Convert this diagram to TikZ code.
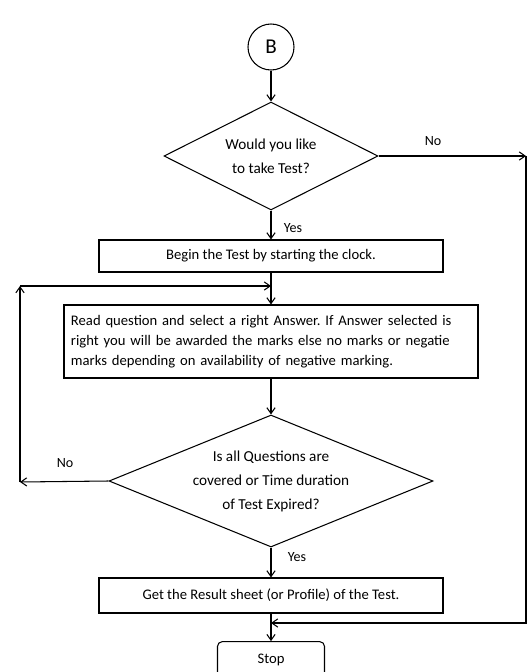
\documentclass[tikz,border=0pt]{standalone}
\usepackage{fontspec}
\setmainfont{Carlito}
\usetikzlibrary{shapes.geometric,arrows.meta}
\frenchspacing
\tikzset{
  box/.style={draw, line width=0.9pt, inner sep=0pt, align=center, font=\fontsize{12.5}{17}\selectfont},
  decision/.style={draw, diamond, line width=0.9pt, inner sep=-5pt, align=center, font=\fontsize{13}{20.5}\selectfont},
  flow/.style={-{Straight Barb[length=5pt,width=7pt]}, line width=0.9pt},
  tag/.style={font=\fontsize{12}{12}\selectfont}
}
\begin{document}
\begin{tikzpicture}[x=0.03cm,y=-0.03cm]
                    \clip (0,0) rectangle (532,672);

                    \node[draw, circle, minimum size=1.38cm, line width=0.9pt, font=\fontsize{18}{18}\selectfont] (start) at (271,47) {B};
                    \node[decision, aspect=2, minimum width=6.42cm, minimum height=3.24cm] (take) at (271,156) {Would you like\\to take Test?};
                    \node[box, minimum width=10.32cm, minimum height=0.96cm] (begin) at (271,256) {Begin the Test by starting the clock.};
                    \node[box, minimum width=12.42cm, minimum height=2.19cm, text width=12.0cm, align=left] (read) at (271,341.5)
                        {Read question and select a right Answer. If Answer selected is\\right you will be awarded the marks else no marks or negatie\\marks depending on availability of negative marking.};
                    \node[decision, aspect=2.45, minimum width=9.72cm, minimum height=3.96cm] (check) at (271,481) {Is all Questions are\\covered or Time duration\\of Test Expired?};
                    \node[box, minimum width=10.32cm, minimum height=1.05cm] (result) at (271,595.5) {Get the Result sheet (or Profile) of the Test.};
                    \node[box, rounded corners=4pt, minimum width=3.21cm, minimum height=1.1cm] (stop) at (271,660) {Stop};

                    \coordinate (noright) at (526,156);
                    \coordinate (join2) at (271,623);
                    \coordinate (noleft) at (20,482);
                    \coordinate (looptop) at (20,286);
                    \coordinate (join1) at (271,286);

                    \draw[flow] (start) -- (take);
                    \draw[flow] (take) -- (begin);
                    \draw[flow] (begin) -- (read);
                    \draw[flow] (read) -- (check);
                    \draw[flow] (check) -- (result);
                    \draw[flow] (result) -- (stop);

                    \draw[flow] (take.east) -- (noright);
                    \draw[flow] (noright) |- (join2);
                    \draw[flow] (check.west) -- (noleft);
                    \draw[flow] (noleft) -- (looptop);
                    \draw[flow] (looptop) -- (join1);

                    \node[tag] (noa) at (433,141) {No};
                    \node[tag] (yesa) at (293,228) {Yes};
                    \node[tag] (nob) at (65,463) {No};
                    \node[tag] (yesb) at (297,557) {Yes};

                \end{tikzpicture}
\end{document}
